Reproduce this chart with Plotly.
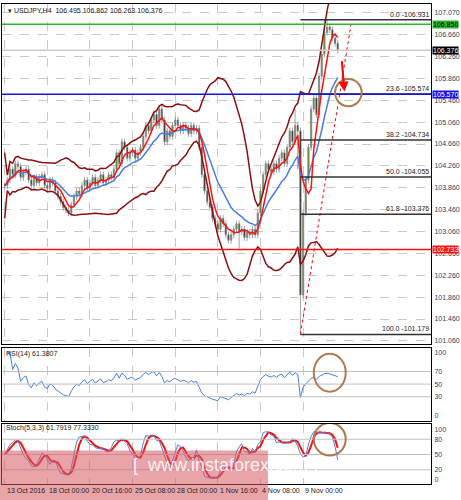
import numpy as np
import pandas as pd
import plotly.graph_objects as go
from plotly.subplots import make_subplots

# H4 closes
closes = [103.90, 104.00, 104.20, 104.10, 104.30, 104.25, 104.05, 104.15,
          104.20, 104.00, 103.90, 104.05, 103.95, 104.05, 104.10, 103.90,
          103.85, 104.00, 103.95, 103.80, 103.70, 103.60, 103.50, 103.45,
          103.40, 103.55, 103.70, 103.80, 103.75, 103.90, 104.00, 103.85,
          103.95, 104.05, 103.90, 104.00, 104.10, 103.95, 104.00, 104.10,
          104.05, 104.20, 104.50, 104.30, 104.70, 104.60, 104.40, 104.50,
          104.55, 104.40, 104.50, 104.60, 104.80, 105.00, 104.90, 105.10,
          105.20, 105.00, 105.30, 105.10, 104.70, 104.90, 104.80, 105.00,
          105.10, 105.00, 104.90, 105.00, 104.95, 104.85, 105.00, 104.90,
          104.95, 104.60, 104.10, 103.80, 103.60, 103.50, 103.30, 103.20,
          103.10, 103.30, 103.20, 103.00, 102.90, 103.00, 103.10, 103.20,
          103.05, 103.10, 102.95, 103.05, 103.00, 103.10, 103.00, 103.40,
          103.80, 104.10, 104.30, 104.20, 104.15, 104.30, 104.20, 104.40,
          104.50, 104.30, 104.60, 104.90, 104.70, 105.00, 104.90, 101.90,
          103.40, 104.00, 104.60, 105.30, 105.50, 105.20, 105.90, 106.30,
          106.70, 106.80, 106.75, 106.60, 106.50, 106.376]
low_overrides = {88: 102.75, 111: 101.18, 110: 104.20}
high_overrides = {109: 105.30, 121: 106.93, 120: 106.93}

tick_pos = [0, 16, 32, 48, 64, 80, 96, 112]
tick_text = ["13 Oct 2016", "18 Oct 00:00", "20 Oct 16:00", "25 Oct 08:00",
             "28 Oct 00:00", "1 Nov 16:00", "4 Nov 08:00", "9 Nov 00:00"]
price_ticks = [101.06, 101.46, 101.86, 102.26, 102.66, 103.06, 103.46, 103.86,
               104.26, 104.66, 105.06, 105.46, 105.86, 106.26, 106.66, 107.07]

fib_levels = [0.0, 23.6, 38.2, 50.0, 61.8, 100.0]
fib_prices = [106.931, 105.574, 104.734, 104.055, 103.376, 101.179]

c = pd.Series(closes)
o = c.shift(1).fillna(c.iloc[0])
h = np.maximum(o, c) + 0.06
l = np.minimum(o, c) - 0.06
for k, v in high_overrides.items():
    h[k] = v
for k, v in low_overrides.items():
    l[k] = v
x = np.arange(len(c))

mid = c.rolling(20, min_periods=1).mean()
sd = c.rolling(20, min_periods=2).std().fillna(0.3)
upper, lower = mid + 2 * sd, mid - 2 * sd
fast = c.rolling(5, min_periods=1).mean()
slow = c.ewm(span=14).mean()

d = c.diff()
up = d.clip(lower=0).ewm(alpha=1/14).mean()
dn = (-d.clip(upper=0)).ewm(alpha=1/14).mean()
rsi = 100 - 100 / (1 + up / dn)
hh = h.rolling(5, min_periods=1).max()
ll = l.rolling(5, min_periods=1).min()
stk = (100 * (c - ll) / (hh - ll)).rolling(3, min_periods=1).mean()
std_ = stk.rolling(3, min_periods=1).mean()

fig = make_subplots(rows=3, cols=1, shared_xaxes=True, vertical_spacing=0.007,
                    row_heights=[340, 73, 60])

fig.add_trace(go.Candlestick(
    x=x, open=o, high=h, low=l, close=c,
    increasing=dict(line=dict(color="#8a8a8a", width=0.8), fillcolor="#3f8f10"),
    decreasing=dict(line=dict(color="#8a8a8a", width=0.8), fillcolor="#000000"),
    whiskerwidth=0), row=1, col=1)
for s, col in [(upper, "#8b0f0f"), (lower, "#8b0f0f"), (slow, "#4a7de0"), (fast, "#ff1010")]:
    fig.add_trace(go.Scatter(x=x, y=s, mode="lines", line=dict(color=col, width=1.5)),
                  row=1, col=1)

# trend line from the low
fig.add_trace(go.Scatter(x=[111, 130], y=[101.18, 106.85], mode="lines",
                         line=dict(color="red", width=1, dash="dot")), row=1, col=1)

for lev, p in zip(fib_levels, fib_prices):
    fig.add_shape(type="line", x0=111, x1=160, y0=p, y1=p,
                  line=dict(color="#333", width=1.5), row=1, col=1)
    fig.add_annotation(x=160, y=p, text=f"{lev:.1f} -{p:.3f}", showarrow=False,
                       xanchor="right", yanchor="bottom", font=dict(size=7, color="#222"),
                       row=1, col=1)

hlines = [(106.85, "#2db52d"), (105.57, "#1515e0"), (102.733, "#ff1010"), (106.376, "#cccccc")]
for p, col in hlines:
    fig.add_hline(y=p, line=dict(color=col, width=1.5), row=1, col=1)
labels = [(106.85, "#2db52d", "106.850", "black"), (105.57, "#1515e0", "105.570", "white"),
          (102.733, "#ff1010", "102.733", "white"), (106.376, "#000", "106.376", "white")]
for p, col, lab, fc in labels:
    fig.add_annotation(x=1, xref="paper", y=p, yref="y", text=lab, showarrow=False,
                       xanchor="left", xshift=1, bgcolor=col, font=dict(size=7, color=fc),
                       borderpad=0)

fig.add_shape(type="circle", x0=124, x1=134, y0=105.35, y1=105.85,
              line=dict(color="#b07a50", width=2), row=1, col=1)
fig.add_annotation(x=127.5, y=105.62, ax=126.5, ay=106.2, axref="x", ayref="y",
                   xref="x", yref="y", showarrow=True, arrowcolor="red",
                   arrowwidth=2, arrowhead=2, text="")

fig.add_trace(go.Scatter(x=x, y=rsi, mode="lines", line=dict(color="#4a7de0", width=1)),
              row=2, col=1)
fig.add_trace(go.Scatter(x=x, y=std_, mode="lines", line=dict(color="#ff1010", width=2)),
              row=3, col=1)
fig.add_trace(go.Scatter(x=x, y=stk, mode="lines", line=dict(color="#4a7de0", width=1)),
              row=3, col=1)
for v in [30, 50, 70]:
    fig.add_hline(y=v, line=dict(color="#c0c0c0", width=1), row=2, col=1)
for v in [20, 50, 80]:
    fig.add_hline(y=v, line=dict(color="#c0c0c0", width=1), row=3, col=1)
fig.add_shape(type="circle", x0=116, x1=128, y0=38, y1=98,
              line=dict(color="#b07a50", width=2), row=2, col=1)
fig.add_shape(type="circle", x0=116, x1=128, y0=48, y1=112,
              line=dict(color="#b07a50", width=2), row=3, col=1)

fig.add_annotation(x=0.01, y=0.997, xref="paper", yref="paper", xanchor="left",
                   yanchor="top", showarrow=False, font=dict(size=7, color="#222"),
                   text="▾ USDJPY,H4  106.495 106.862 106.263 106.376")
fig.add_annotation(x=0.005, y=0.283, xref="paper", yref="paper", xanchor="left",
                   yanchor="top", showarrow=False, font=dict(size=7, color="#222"),
                   text="RSI(14) 61.3807")
fig.add_annotation(x=0.005, y=0.129, xref="paper", yref="paper", xanchor="left",
                   yanchor="top", showarrow=False, font=dict(size=7, color="#222"),
                   text="Stoch(5,3,3) 61.7919 77.3330")

# date labels, left-anchored at their bar like the terminal does
for p, t in zip(tick_pos, tick_text):
    fig.add_annotation(x=p, xref="x3", y=0, yref="paper", yanchor="top", xanchor="left",
                       text=t, showarrow=False, font=dict(size=7, color="#222"), yshift=-1)

# watermark
fig.add_shape(type="rect", xref="paper", yref="paper", x0=-0.01, x1=0.62, y0=-0.04,
              y1=0.07, fillcolor="rgba(215,90,100,0.55)", line=dict(width=0), layer="above")
fig.add_annotation(x=0.3, y=0.015, xref="paper", yref="paper", showarrow=False,
                   text="[  www.instaforex.com ]", font=dict(size=18, color="rgba(255,255,255,0.85)"))

grid = dict(showgrid=True, gridcolor="#c8c8c8", griddash="dash", showline=True,
            linecolor="black", mirror=True, zeroline=False)
fig.update_xaxes(range=[-1, 160], tickvals=tick_pos, showticklabels=False,
                 rangeslider_visible=False, ticks="", **grid)
fig.update_yaxes(side="right", tickfont=dict(size=7), ticklabelstandoff=1,
                 automargin=False, **grid)
fig.update_yaxes(range=[101.0, 107.22], tickvals=price_ticks,
                 ticktext=[f"{t:.3f}" for t in price_ticks], row=1, col=1)
fig.update_yaxes(range=[-8, 108], tickvals=[0, 30, 50, 70, 100], showgrid=False, row=2, col=1)
fig.update_yaxes(range=[-8, 110], tickvals=[0, 20, 50, 80, 100], showgrid=False, row=3, col=1)

fig.update_layout(width=461, height=500, margin=dict(l=2, r=30, t=4, b=16, autoexpand=False),
                  showlegend=False, plot_bgcolor="white", paper_bgcolor="white",
                  font=dict(family="Liberation Sans"))

fig.write_html("out.html", config={"displayModeBar": False},
               post_script="document.body.style.margin='0';")
